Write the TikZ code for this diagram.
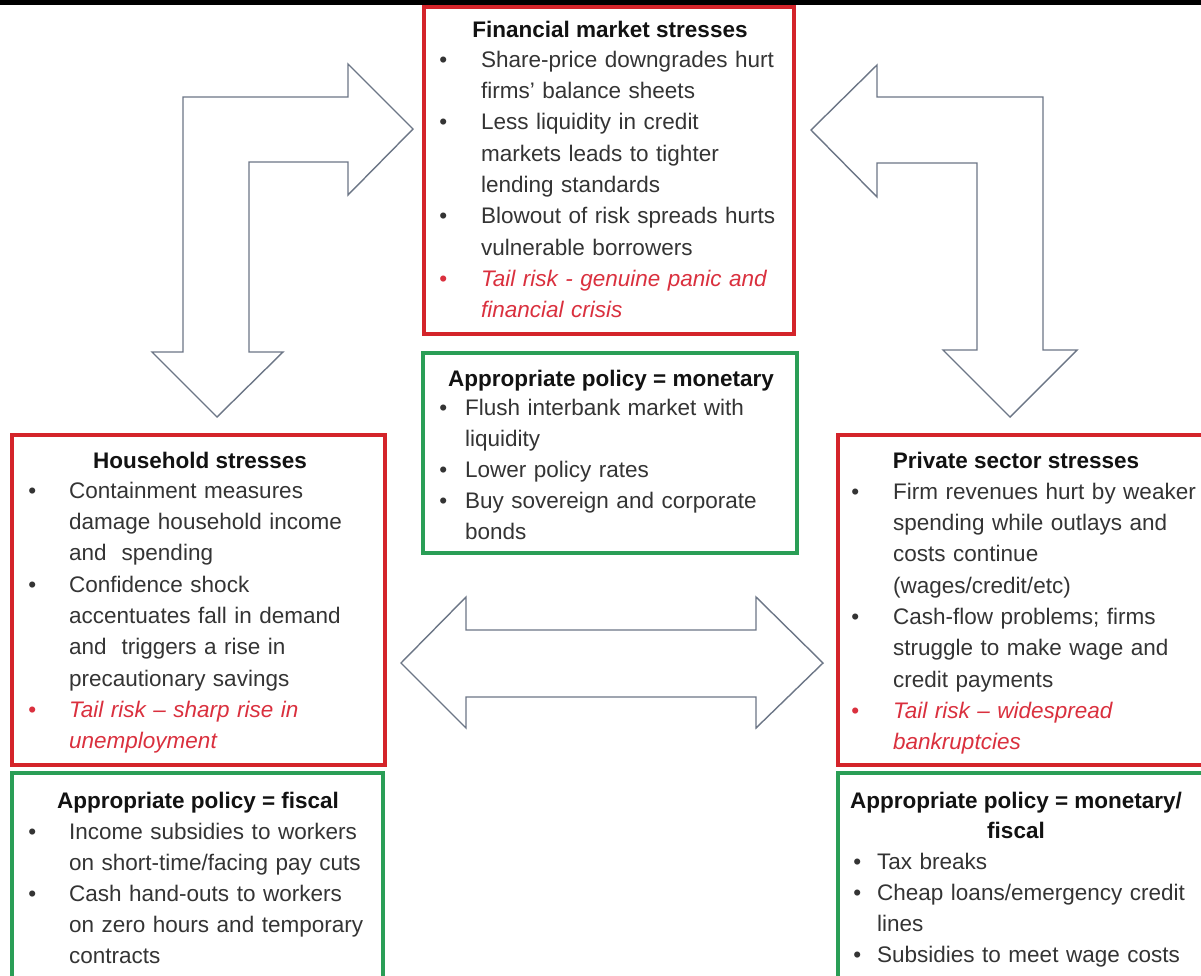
\documentclass[tikz,border=0pt]{standalone}
\usepackage{fontspec}
\setmainfont{Liberation Sans}
\definecolor{redc}{RGB}{212,36,42}
\definecolor{greenc}{RGB}{42,158,86}
\definecolor{arrowc}{RGB}{108,118,134}
\definecolor{bodyc}{RGB}{52,52,52}
\definecolor{headc}{RGB}{18,18,18}
\definecolor{tailc}{RGB}{218,48,62}
\newcommand\BulLine[2]{\strut\makebox[#1][l]{\textbullet}#2}
\newcommand\ContLine[2]{\strut\hspace*{#1}#2}
\newcommand\TailLine[2]{\strut{\color{tailc}\makebox[#1][l]{\textbullet}\itshape #2}}
\newcommand\TailCont[2]{\strut\hspace*{#1}{\color{tailc}\itshape #2}}
\tikzset{
  txt/.style={font=\fontsize{22.5}{31.3}\selectfont},
  redbox/.style={draw=redc, line width=3.2pt, inner sep=0pt, outer sep=0pt, anchor=north west},
  greenbox/.style={draw=greenc, line width=3.2pt, inner sep=0pt, outer sep=0pt, anchor=north west},
  head/.style={txt, text=headc, inner sep=0pt, anchor=base, font=\fontsize{22.5}{31.3}\selectfont\bfseries},
  body/.style={txt, text=bodyc, inner sep=0pt, anchor=north west, yshift=21.91pt, text width=400pt, align=left},
  blockarrow/.style={draw=arrowc, line width=1.4pt, fill=white, line join=miter}
}
\begin{document}
\begin{tikzpicture}[x=1pt,y=-1pt]
\useasboundingbox (0,0) rectangle (1201,975);
\clip (0,0) rectangle (1201,975);
\fill[white] (0,0) rectangle (1201,975);
% top rule
\fill[black] (0,0) rectangle (1201,4.5);

% block arrows
\draw[blockarrow] (183,97) -- (348,97) -- (348,64) -- (413,129) -- (348,195) -- (348,162)
  -- (249,162) -- (249,352) -- (283,352) -- (217,417) -- (152,352) -- (183,352) -- cycle;
\draw[blockarrow] (1043,97) -- (877,97) -- (877,65) -- (811,130) -- (877,197) -- (877,163)
  -- (977,163) -- (977,350) -- (943,350) -- (1010,417) -- (1077,350) -- (1043,350) -- cycle;
\draw[blockarrow] (401,663) -- (466,597) -- (466,630) -- (756,630) -- (756,597) -- (823,663)
  -- (756,728) -- (756,697) -- (466,697) -- (466,728) -- cycle;

% boxes
\node[redbox, minimum width=370pt, minimum height=327pt] (fin) at (424,7) {};
\node[greenbox, minimum width=374pt, minimum height=200pt] (mon) at (423,353) {};
\node[redbox, minimum width=373pt, minimum height=330pt] (hh) at (12,435) {};
\node[redbox, minimum width=370pt, minimum height=330pt] (priv) at (838,435) {};
\node[greenbox, minimum width=371pt, minimum height=220pt] (fis) at (12,773) {};
\node[greenbox, minimum width=370pt, minimum height=220pt] (mf) at (838,773) {};

% financial market stresses
\node[head] (fin-h) at (610,37) {Financial market stresses};
\node[body] (fin-b) at (439.1,67) {%
\BulLine{41.9pt}{Share-price downgrades hurt}\\
\ContLine{41.9pt}{firms’ balance sheets}\\
\BulLine{41.9pt}{Less liquidity in credit}\\
\ContLine{41.9pt}{markets leads to tighter}\\
\ContLine{41.9pt}{lending standards}\\
\BulLine{41.9pt}{Blowout of risk spreads hurts}\\
\ContLine{41.9pt}{vulnerable borrowers}\\
\TailLine{41.9pt}{Tail risk - genuine panic and}\\
\TailCont{41.9pt}{financial crisis}};

% monetary policy
\node[head] (mon-h) at (611,386) {Appropriate policy = monetary};
\node[body, font=\fontsize{22.5}{31}\selectfont] (mon-b) at (439.1,416) {%
\BulLine{25.9pt}{Flush interbank market with}\\
\ContLine{25.9pt}{liquidity}\\
\BulLine{25.9pt}{Lower policy rates}\\
\BulLine{25.9pt}{Buy sovereign and corporate}\\
\ContLine{25.9pt}{bonds}};

% household stresses
\node[head] (hh-h) at (200,468) {Household stresses};
\node[body] (hh-b) at (28.1,498) {%
\BulLine{40.9pt}{Containment measures}\\
\ContLine{40.9pt}{damage household income}\\
\ContLine{40.9pt}{and\ \ spending}\\
\BulLine{40.9pt}{Confidence shock}\\
\ContLine{40.9pt}{accentuates fall in demand}\\
\ContLine{40.9pt}{and\ \ triggers a rise in}\\
\ContLine{40.9pt}{precautionary savings}\\
\TailLine{40.9pt}{Tail risk – sharp rise in}\\
\TailCont{40.9pt}{unemployment}};

% private sector stresses
\node[head] (priv-h) at (1016,468) {Private sector stresses};
\node[body] (priv-b) at (851.1,499) {%
\BulLine{41.9pt}{Firm revenues hurt by weaker}\\
\ContLine{41.9pt}{spending while outlays and}\\
\ContLine{41.9pt}{costs continue}\\
\ContLine{41.9pt}{(wages/credit/etc)}\\
\BulLine{41.9pt}{Cash-flow problems; firms}\\
\ContLine{41.9pt}{struggle to make wage and}\\
\ContLine{41.9pt}{credit payments}\\
\TailLine{41.9pt}{Tail risk – widespread}\\
\TailCont{41.9pt}{bankruptcies}};

% fiscal policy
\node[head] (fis-h) at (198,808) {Appropriate policy = fiscal};
\node[body, font=\fontsize{22.5}{31}\selectfont] (fis-b) at (28.1,839) {%
\BulLine{40.9pt}{Income subsidies to workers}\\
\ContLine{40.9pt}{on short-time/facing pay cuts}\\
\BulLine{40.9pt}{Cash hand-outs to workers}\\
\ContLine{40.9pt}{on zero hours and temporary}\\
\ContLine{40.9pt}{contracts}};

% monetary/fiscal policy
\node[head] (mf-h1) at (1016,808) {Appropriate policy = monetary/};
\node[head] (mf-h2) at (1016,838) {fiscal};
\node[body, font=\fontsize{22.5}{31}\selectfont] (mf-b) at (853.1,869) {%
\BulLine{23.9pt}{Tax breaks}\\
\BulLine{23.9pt}{Cheap loans/emergency credit}\\
\ContLine{23.9pt}{lines}\\
\BulLine{23.9pt}{Subsidies to meet wage costs}};
\end{tikzpicture}
\end{document}
